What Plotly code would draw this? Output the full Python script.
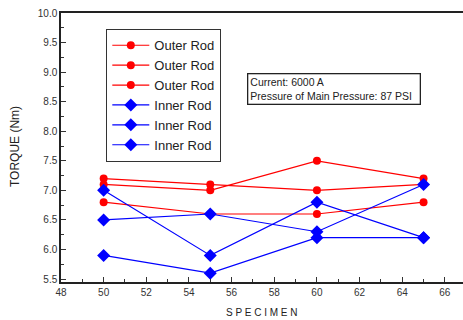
import plotly.graph_objects as go

specimen = [50, 55, 60, 65]
outer_1 = [7.2, 7.1, 7.0, 7.1]
outer_2 = [7.1, 7.0, 7.5, 7.2]
outer_3 = [6.8, 6.6, 6.6, 6.8]
inner_1 = [7.0, 5.9, 6.8, 6.2]
inner_2 = [6.5, 6.6, 6.3, 7.1]
inner_3 = [5.9, 5.6, 6.2, 6.2]

x_ticks = [48, 50, 52, 54, 56, 58, 60, 62, 64, 66]
y_ticks = [5.5, 6.0, 6.5, 7.0, 7.5, 8.0, 8.5, 9.0, 9.5, 10.0]

RED = "#ff0000"
BLUE = "#0000ff"
FONT = "Liberation Sans, Arial, sans-serif"

L, R, T, B, W, H = 61, 0, 13, 38, 463, 320
pw, ph = W - L - R, H - T - B


def px_x(x):
    return (x - L) / pw


def px_y(y):
    return (H - B - y) / ph


fig = go.Figure()
for name, ys, color, symbol, size in [
    ("Outer Rod", outer_1, RED, "circle", 8),
    ("Outer Rod", outer_2, RED, "circle", 8),
    ("Outer Rod", outer_3, RED, "circle", 8),
    ("Inner Rod", inner_1, BLUE, "diamond", 10),
    ("Inner Rod", inner_2, BLUE, "diamond", 10),
    ("Inner Rod", inner_3, BLUE, "diamond", 10),
]:
    fig.add_trace(go.Scatter(
        x=specimen, y=ys, name=name, mode="lines+markers",
        line=dict(color=color, width=1.2),
        marker=dict(color=color, symbol=symbol, size=size),
        cliponaxis=False,
    ))

fig.update_layout(
    width=W, height=H,
    margin=dict(l=L, r=R, t=T, b=B, autoexpand=False),
    plot_bgcolor="white", paper_bgcolor="white",
    font=dict(family=FONT, color="#333333", size=10),
    showlegend=True,
    legend=dict(
        x=px_x(106), y=px_y(29), xanchor="left", yanchor="top",
        bgcolor="white", bordercolor="#333333", borderwidth=1.3,
        font=dict(size=13, color="#222222", family=FONT),
        itemwidth=37, tracegroupgap=0,
    ),
    xaxis=dict(
        range=[48, 66.85], tickvals=x_ticks, ticktext=[str(v) for v in x_ticks],
        ticks="inside", ticklen=5, tickwidth=1.2, tickcolor="#333333",
        minor=dict(ticks="inside", dtick=1, tick0=48, ticklen=3, tickcolor="#333333"),
        showline=True, linecolor="#222222", linewidth=1.5, mirror=True,
        showgrid=False, zeroline=False, automargin=False,
        tickfont=dict(size=10, color="#333333"),
    ),
    yaxis=dict(
        range=[5.45, 10.0], tickvals=y_ticks, ticktext=[f"{v:.1f}" for v in y_ticks],
        ticks="inside", ticklen=5, tickwidth=1.2, tickcolor="#333333",
        minor=dict(ticks="inside", dtick=0.25, tick0=5.5, ticklen=3, tickcolor="#333333"),
        showline=True, linecolor="#222222", linewidth=1.5,
        showgrid=False, zeroline=False, automargin=False,
        tickfont=dict(size=10, color="#333333"),
    ),
    annotations=[
        dict(
            x=px_x(247), y=px_y(89.5), xref="paper", yref="paper",
            xanchor="left", yanchor="middle",
            text="Current: 6000 A<br>Pressure of Main Pressure: 87 PSI&nbsp;&nbsp;",
            align="left", showarrow=False,
            font=dict(size=10.5, color="#222222", family=FONT),
            bordercolor="#222222", borderwidth=1.3, borderpad=2,
            bgcolor="white",
        ),
        dict(
            x=px_x(262), y=px_y(312), xref="paper", yref="paper", showarrow=False,
            text="S P E C I M E N", font=dict(size=10, color="#222222", family=FONT),
            xanchor="center", yanchor="middle",
        ),
        dict(
            x=px_x(15), y=px_y(147), xref="paper", yref="paper", showarrow=False,
            text="TORQUE (Nm)", textangle=-90,
            font=dict(size=12, color="#222222", family=FONT),
            xanchor="center", yanchor="middle",
        ),
    ],
)

fig.write_html(
    "out.html",
    config={"displayModeBar": False},
    post_script="document.body.style.margin='0';document.body.style.overflow='hidden';",
)
